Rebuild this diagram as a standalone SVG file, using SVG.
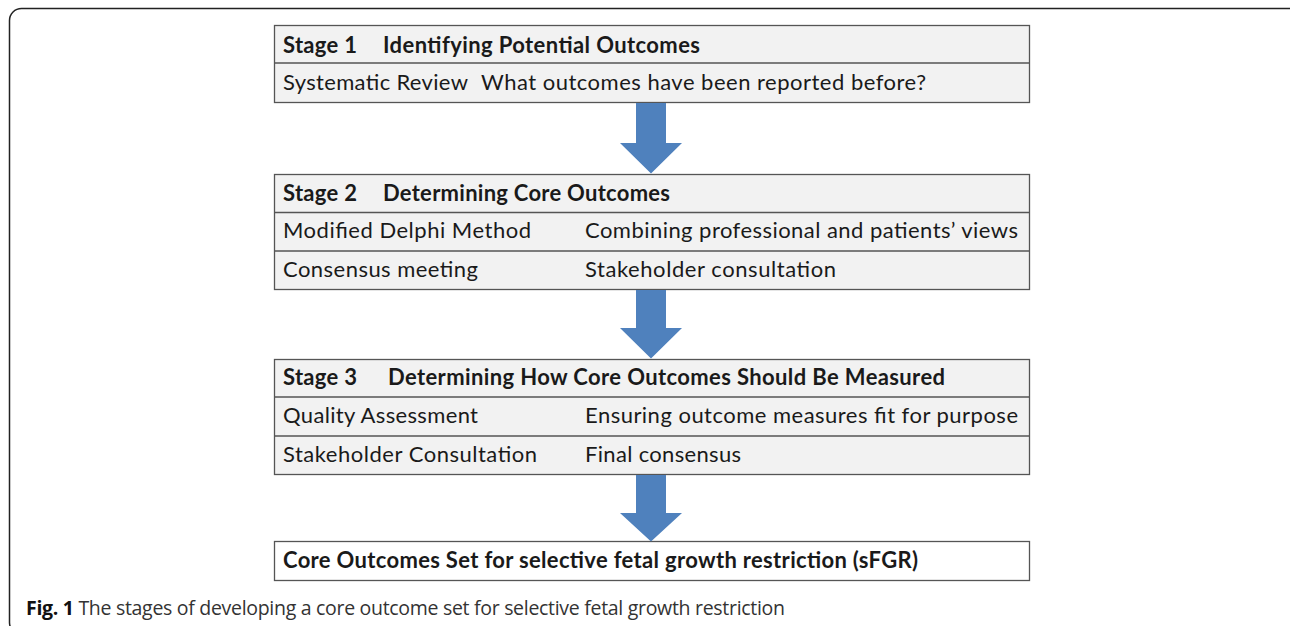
<svg xmlns="http://www.w3.org/2000/svg" width="1290" height="626" viewBox="0 0 1290 626">
<style>
.frame{fill:#fff;stroke:#222;stroke-width:1.5}
.box{fill:#f2f2f2;stroke:#555;stroke-width:1.3}
.fin{fill:#fff;stroke:#555;stroke-width:1.3}
.div{stroke:#555;stroke-width:1.3}
.t{font-family:Lato,"Liberation Sans",sans-serif;font-size:22px;fill:#1a1a1a}
.b{font-weight:bold}
.arrow{fill:#4f81bd}
.cap{font-family:"Open Sans","Noto Sans",sans-serif;font-size:19.5px;fill:#333}
</style>
<rect class="frame" x="9.5" y="8.5" width="1295" height="626" rx="12"/>
<g id="stage1">
<rect class="box" x="274.5" y="25.5" width="755" height="77"/>
<line class="div" x1="274.5" y1="63" x2="1029.5" y2="63"/>
<text class="t b" x="283" y="53" textLength="74">Stage 1</text>
<text class="t b" x="383" y="53" textLength="317">Identifying Potential Outcomes</text>
<text class="t" x="283" y="90" textLength="185">Systematic Review</text>
<text class="t" x="481" y="90" textLength="445">What outcomes have been reported before?</text>
</g>
<g id="stage2">
<rect class="box" x="274.5" y="174.5" width="755" height="115"/>
<line class="div" x1="274.5" y1="212.5" x2="1029.5" y2="212.5"/>
<line class="div" x1="274.5" y1="251" x2="1029.5" y2="251"/>
<text class="t b" x="283" y="201" textLength="74">Stage 2</text>
<text class="t b" x="383" y="201" textLength="287">Determining Core Outcomes</text>
<text class="t" x="283" y="238" textLength="248">Modified Delphi Method</text>
<text class="t" x="585" y="238" textLength="433">Combining professional and patients’ views</text>
<text class="t" x="283" y="277" textLength="195">Consensus meeting</text>
<text class="t" x="585" y="277" textLength="251">Stakeholder consultation</text>
</g>
<g id="stage3">
<rect class="box" x="274.5" y="359.5" width="755" height="115"/>
<line class="div" x1="274.5" y1="397" x2="1029.5" y2="397"/>
<line class="div" x1="274.5" y1="436" x2="1029.5" y2="436"/>
<text class="t b" x="283" y="385" textLength="74">Stage 3</text>
<text class="t b" x="388" y="385" textLength="557">Determining How Core Outcomes Should Be Measured</text>
<text class="t" x="283" y="423" textLength="195">Quality Assessment</text>
<text class="t" x="585" y="423" textLength="433">Ensuring outcome measures fit for purpose</text>
<text class="t" x="283" y="462" textLength="254">Stakeholder Consultation</text>
<text class="t" x="585" y="462" textLength="156">Final consensus</text>
</g>
<g id="final">
<rect class="fin" x="274.5" y="541.5" width="755" height="39"/>
<text class="t b" x="283" y="568" textLength="635">Core Outcomes Set for selective fetal growth restriction (sFGR)</text>
</g>
<g id="connectors">
<polygon class="arrow" points="636,103 666,103 666,143 682,143 651,173.5 620,143 636,143"/>
<polygon class="arrow" points="636,290 666,290 666,328 682,328 651,358.5 620,328 636,328"/>
<polygon class="arrow" points="636,475 666,475 666,513 682,513 651,541.5 620,513 636,513"/>
</g>
<text class="cap" x="26" y="615" textLength="759"><tspan font-weight="bold" fill="#111">Fig. 1</tspan> The stages of developing a core outcome set for selective fetal growth restriction</text>
</svg>
